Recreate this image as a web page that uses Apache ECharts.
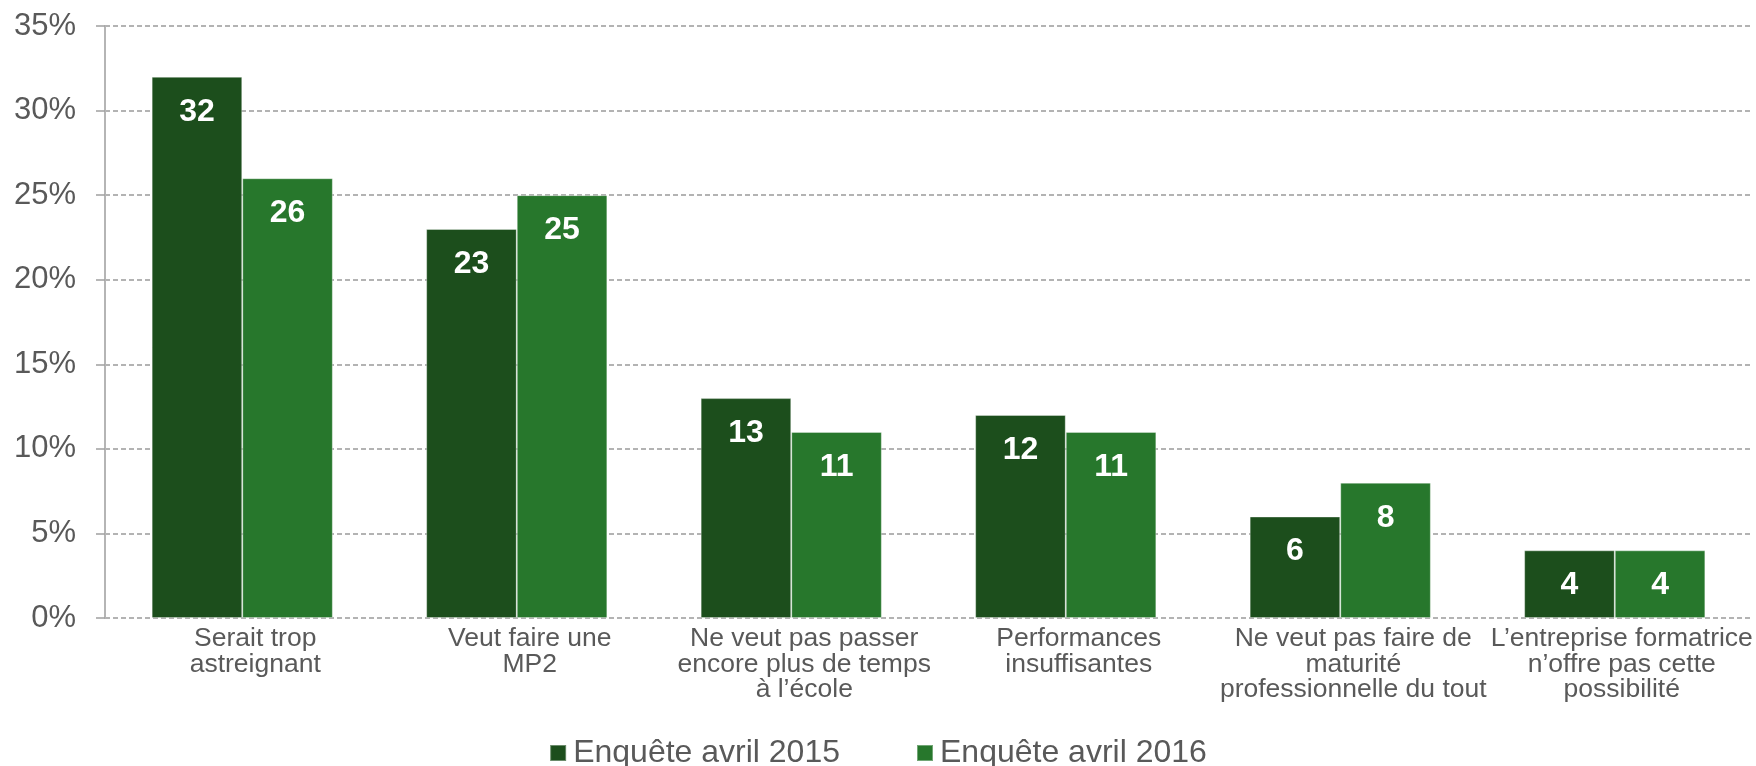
<!DOCTYPE html>
<html>
<head>
<meta charset="utf-8">
<script src="https://cdn.jsdelivr.net/npm/echarts@6/dist/echarts.min.js"></script>
<style>
  html, body { margin: 0; padding: 0; background: #ffffff; }
  #chart { width: 1756px; height: 766px; }
</style>
</head>
<body>
<div id="chart"></div>
<script>
// Raisons invoquées (en %)
const categories = [
  'Serait trop\nastreignant',
  'Veut faire une\nMP2',
  'Ne veut pas passer\nencore plus de temps\nà l’école',
  'Performances\ninsuffisantes',
  'Ne veut pas faire de\nmaturité\nprofessionnelle du tout',
  'L’entreprise formatrice\nn’offre pas cette\npossibilité'
];
const seriesNames = ['Enquête avril 2015', 'Enquête avril 2016'];
const values2015 = [32, 23, 13, 12, 6, 4];
const values2016 = [26, 25, 11, 11, 8, 4];
const yTicks = [0, 5, 10, 15, 20, 25, 30, 35];

const textGray = '#595959';
const colors = ['#1c4e1c', '#27772c'];
const font = 'Liberation Sans, Arial, sans-serif';

const chart = echarts.init(document.getElementById('chart'), null, { renderer: 'canvas' });

function barSeries(name, data, color) {
  return {
    name: name,
    type: 'bar',
    data: data,
    barGap: '0%',
    barCategoryGap: '34%',
    itemStyle: {
      color: color,
      borderColor: 'rgba(255,255,255,0.35)',
      borderWidth: 1
    },
    label: {
      show: true,
      position: 'insideTop',
      distance: 19,
      color: '#ffffff',
      fontFamily: font,
      fontWeight: 'bold',
      fontSize: 32,
      formatter: '{c}'
    }
  };
}

// the last category label sits against the right edge, so it gets less shift
const lastIndex = categories.length - 1;
function categoryLabel(value, index) {
  const style = index === lastIndex ? 'edge' : 'std';
  return value.split('\n').map(function (line) {
    return '{' + style + '|' + line + '}';
  }).join('\n');
}

chart.setOption({
  animation: false,
  backgroundColor: '#ffffff',
  textStyle: { fontFamily: font },
  grid: { left: 105, right: 4, top: 26, bottom: 148, containLabel: false },
  legend: {
    data: seriesNames,
    left: 'center',
    top: 732,
    icon: 'rect',
    itemWidth: 16,
    itemHeight: 16,
    itemGap: 76,
    textStyle: {
      color: textGray,
      fontSize: 32,
      fontFamily: font,
      padding: [0, 0, 0, 2]
    }
  },
  xAxis: {
    type: 'category',
    data: categories,
    axisLine: { show: false },
    axisTick: { show: false },
    axisLabel: {
      interval: 0,
      hideOverlap: false,
      color: textGray,
      fontSize: 26.5,
      lineHeight: 25.5,
      margin: 8,
      fontFamily: font,
      formatter: categoryLabel,
      rich: {
        std: {
          color: textGray,
          fontSize: 26.5,
          lineHeight: 25.5,
          fontFamily: font,
          padding: [0, 0, 0, 26]
        },
        edge: {
          color: textGray,
          fontSize: 26.5,
          lineHeight: 25.5,
          fontFamily: font,
          padding: [0, 0, 0, 14]
        }
      }
    }
  },
  yAxis: {
    type: 'value',
    min: yTicks[0],
    max: yTicks[yTicks.length - 1],
    interval: 5,
    axisLine: { show: true, lineStyle: { color: '#b5b5b5', width: 2 } },
    axisTick: { show: true, length: 9, lineStyle: { color: '#a0a0a0', width: 1.5 } },
    axisLabel: {
      color: textGray,
      fontSize: 31,
      margin: 29,
      fontFamily: font,
      formatter: '{value}%'
    },
    splitLine: {
      show: true,
      lineStyle: { color: '#9a9a9a', width: 1.5, type: [5, 3] }
    }
  },
  series: [
    barSeries(seriesNames[0], values2015, colors[0]),
    barSeries(seriesNames[1], values2016, colors[1])
  ]
});
</script>
</body>
</html>
